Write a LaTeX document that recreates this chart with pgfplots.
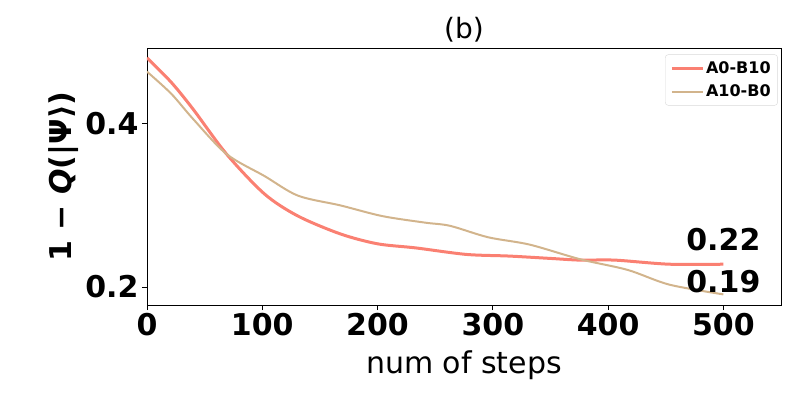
\documentclass[border=0pt]{standalone}
\usepackage{pgfplots}
\pgfplotsset{compat=1.18}
\usepackage{fontspec}
\setmainfont{DejaVu Sans}

\definecolor{salmonline}{HTML}{FA8072}
\definecolor{tanline}{HTML}{D2B48C}

\begin{document}
\begin{tikzpicture}
\begin{axis}[
    scale only axis,
    width=634pt, height=257pt,
    xmin=0, xmax=550, ymin=0.178, ymax=0.493,
    xtick={0,100,200,300,400,500},
    ytick={0.2,0.4},
    yticklabel style={/pgf/number format/fixed, /pgf/number format/precision=1},
    /pgf/number format/assume math mode=true,
    tick align=outside, major tick length=5pt,
    tick style={black, line width=0.8pt},
    xtick pos=bottom, ytick pos=left,
    axis line style={line width=0.8pt},
    ticklabel style={font=\fontsize{30}{30}\selectfont\bfseries},
    xlabel={num of steps},
    xlabel style={font=\fontsize{30}{30}\selectfont, yshift=-8pt},
    ylabel={1 − \textit{Q}(|Ψ⟩)},
    ylabel style={font=\fontsize{30}{30}\selectfont\bfseries},
    title={(b)},
    title style={font=\fontsize{28}{28}\selectfont, yshift=-4pt},
    legend style={at={(0.995,0.975)}, anchor=north east, font=\fontsize{16}{16}\selectfont\bfseries,
        draw=black!15, rounded corners=3pt, fill=white, inner sep=5pt, row sep=6pt},
    legend cell align=left,
    legend image post style={xscale=1.8},
]
\addplot[salmonline, line width=3pt, smooth, tension=0.5] coordinates {
    (0,0.481) (21,0.451) (40,0.418) (69,0.363) (102,0.314) (131,0.287)
    (168,0.265) (200,0.253) (233,0.248) (277,0.240) (314,0.238) (351,0.235)
    (376,0.233) (406,0.233) (453,0.228) (500,0.228)
};
\addlegendentry{A0-B10}
\addplot[tanline, line width=2pt, smooth, tension=0.5] coordinates {
    (0,0.464) (21,0.437) (40,0.406) (69,0.363) (102,0.336) (131,0.312)
    (168,0.300) (204,0.287) (241,0.279) (263,0.275) (296,0.261) (332,0.252)
    (376,0.234) (417,0.221) (453,0.203) (500,0.191)
};
\addlegendentry{A10-B0}
\node[font=\fontsize{30}{30}\selectfont\bfseries] at (axis cs:500,0.258) {0.22};
\node[font=\fontsize{30}{30}\selectfont\bfseries] at (axis cs:500,0.207) {0.19};
\end{axis}
\pgfresetboundingbox
\path[use as bounding box] (current axis.south west) ++(-147pt,-94pt) rectangle ++(797pt,399pt);
\end{tikzpicture}
\end{document}
